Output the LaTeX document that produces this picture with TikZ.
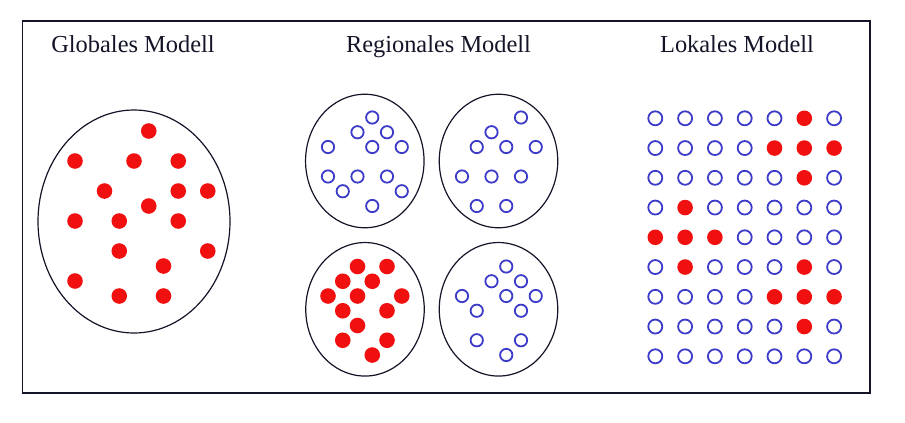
\documentclass[tikz,border=0pt]{standalone}
\usepackage{fontspec}
\setmainfont{Liberation Serif}
\usetikzlibrary{shapes.geometric}
\definecolor{dotred}{RGB}{240,16,16}
\definecolor{ringblue}{RGB}{60,60,200}
\definecolor{framecol}{RGB}{20,20,40}
\begin{document}
\begin{tikzpicture}[x=1pt,y=-1pt,
  reddot/.style={circle,fill=dotred,inner sep=0pt,minimum size=15.6pt},
  ring/.style={circle,draw=ringblue,line width=1.8pt,inner sep=0pt,minimum size=12.3pt},
  bigring/.style={ring,minimum size=14pt},
  region/.style={ellipse,draw=framecol,line width=1.2pt,inner sep=0pt,minimum width=118.5pt,minimum height=133.5pt},
  title/.style={anchor=base,font=\fontsize{24.4}{28}\selectfont,text=framecol}]
\useasboundingbox (0,0) rectangle (905,423);
\node[draw=framecol,line width=1.5pt,inner sep=0pt,minimum width=847.5pt,minimum height=372pt] (frame) at (446.25,207) {};
% titles
\node[title] (tg) at (133,52.6) {Globales Modell};
\node[title] (tr) at (438.5,52.6) {Regionales Modell};
\node[title] (tl) at (737,52.6) {Lokales Modell};
% global model
\node[ellipse,draw=framecol,line width=1.2pt,inner sep=0pt,minimum width=192pt,minimum height=223pt] (glob) at (134,221.5) {};
\foreach \i/\j [count=\n] in {5/0,0/2,4/2,7/2,2/4,7/4,9/4,5/5,0/6,3/6,7/6,3/8,9/8,6/9,0/10,3/11,6/11}
  \node[reddot] (g\n) at ({75+14.75*\i},{131+15*\j}) {};
% regional model
\node[region] (rtl) at (364.8,161) {};
\node[region] (rtr) at (498.5,161) {};
\node[region] (rbl) at (365,309.3) {};
\node[region] (rbr) at (498.5,309.3) {};
\foreach \i/\j [count=\n] in {3/0,2/1,4/1,0/2,3/2,5/2,0/4,2/4,4/4,1/5,5/5,3/6}
  \node[ring] (a\n) at ({328+14.75*\i},{117.5+14.75*\j}) {};
\foreach \i/\j [count=\n] in {4/0,2/1,1/2,3/2,5/2,0/4,2/4,4/4,1/6,3/6}
  \node[ring] (b\n) at ({462+14.75*\i},{117.5+14.75*\j}) {};
\foreach \i/\j [count=\n] in {2/0,4/0,1/1,3/1,0/2,2/2,5/2,1/3,4/3,2/4,1/5,4/5,3/6}
  \node[reddot] (c\n) at ({328+14.75*\i},{266.5+14.75*\j}) {};
\foreach \i/\j [count=\n] in {3/0,2/1,4/1,0/2,3/2,5/2,1/3,4/3,1/5,4/5,3/6}
  \node[ring] (d\n) at ({462+14.75*\i},{266.5+14.75*\j}) {};
% local model
\foreach \r/\code in {0/2,1/7,2/2,3/32,4/112,5/34,6/7,7/2,8/0}{
  \foreach \c in {0,...,6}{
    \pgfmathtruncatemacro\bitval{mod(floor(\code/2^(6-\c)),2)}
    \ifnum\bitval=1
      \node[reddot] (l\r-\c) at ({655.3+29.8*\c},{118.3+29.75*\r}) {};
    \else
      \node[bigring] (l\r-\c) at ({655.3+29.8*\c},{118.3+29.75*\r}) {};
    \fi
  }
}
\end{tikzpicture}
\end{document}
